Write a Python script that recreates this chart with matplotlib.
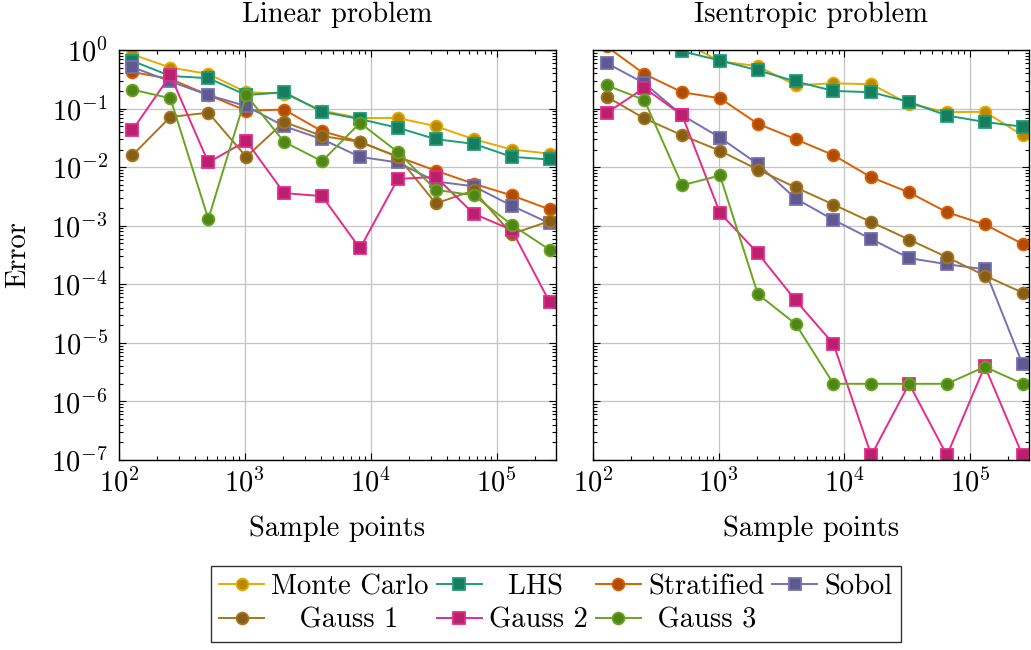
import matplotlib.pyplot as plt
from matplotlib.colors import to_rgb
from matplotlib.ticker import LogLocator, NullFormatter
import numpy as np

plt.rcParams.update({
    'font.family': 'serif',
    'font.serif': ['cmr10'],
    'mathtext.fontset': 'cm',
    'axes.formatter.use_mathtext': True,
    'font.size': 20.5,
    'axes.titlesize': 20.5,
    'axes.labelsize': 20.5,
})

samples = [128, 256, 512, 1024, 2048, 4096, 8192, 16384, 32768, 65536, 131072, 262144]

methods = ['Monte Carlo', 'LHS', 'Stratified', 'Sobol', 'Gauss 1', 'Gauss 2', 'Gauss 3']
colors = ['#e6ab02', '#1b9e77', '#d95f02', '#7570b3', '#a6761d', '#e7298a', '#66a61e']
markers = ['o', 's', 'o', 's', 'o', 's', 'o']

# linear problem errors
lin_mc = [0.84, 0.50, 0.39, 0.19, 0.18, 0.092, 0.069, 0.069, 0.050, 0.030, 0.020, 0.017]
lin_lhs = [0.65, 0.36, 0.33, 0.17, 0.19, 0.088, 0.066, 0.047, 0.030, 0.025, 0.015, 0.0135]
lin_strat = [0.42, 0.32, 0.17, 0.092, 0.096, 0.041, 0.027, 0.015, 0.0087, 0.0052, 0.0033, 0.0019]
lin_sobol = [0.51, 0.29, 0.17, 0.11, 0.050, 0.030, 0.015, 0.012, 0.0057, 0.0047, 0.0022, 0.0011]
lin_g1 = [0.016, 0.072, 0.085, 0.015, 0.059, 0.034, 0.027, 0.015, 0.0024, 0.0040, 0.00072, 0.0012]
lin_g2 = [0.043, 0.37, 0.012, 0.028, 0.0036, 0.0032, 0.00041, 0.0063, 0.0068, 0.0016, 0.00085, 5.0e-5]
lin_g3 = [0.21, 0.15, 0.0013, 0.17, 0.027, 0.0126, 0.057, 0.018, 0.0041, 0.0033, 0.00104, 0.00039]

# isentropic problem errors
isen_mc = [3.0, 2.0, 1.4, 0.64, 0.53, 0.25, 0.27, 0.26, 0.12, 0.087, 0.088, 0.035]
isen_lhs = [2.5, 1.6, 0.95, 0.66, 0.45, 0.29, 0.20, 0.19, 0.13, 0.076, 0.059, 0.049]
isen_strat = [1.15, 0.39, 0.19, 0.15, 0.055, 0.030, 0.016, 0.0067, 0.0037, 0.0017, 0.00105, 0.00049]
isen_sobol = [0.60, 0.27, 0.077, 0.032, 0.0113, 0.0029, 0.00126, 0.00059, 0.00028, 0.00022, 0.00018, 4.3e-6]
isen_g1 = [0.16, 0.068, 0.035, 0.019, 0.0091, 0.0045, 0.0023, 0.00115, 0.00058, 0.00029, 0.000141, 7.2e-5]
isen_g2 = [0.084, 0.225, 0.077, 0.00165, 0.00034, 5.3e-5, 9.6e-6, 1.2e-7, 2.0e-6, 1.2e-7, 4.0e-6, 1.2e-7]
isen_g3 = [0.25, 0.14, 0.0049, 0.0072, 6.8e-5, 2.1e-5, 2.0e-6, 2.0e-6, 2.0e-6, 2.0e-6, 3.9e-6, 2.0e-6]

linear = [lin_mc, lin_lhs, lin_strat, lin_sobol, lin_g1, lin_g2, lin_g3]
isentropic = [isen_mc, isen_lhs, isen_strat, isen_sobol, isen_g1, isen_g2, isen_g3]

fig = plt.figure(figsize=(10.31, 6.5), dpi=100)
ax1 = fig.add_axes([0.1154, 0.2923, 0.4239, 0.6308])
ax2 = fig.add_axes([0.5752, 0.2923, 0.4229, 0.6308])

handles = []
for ax, series, title in [(ax1, linear, 'Linear problem'), (ax2, isentropic, 'Isentropic problem')]:
    for name, col, mk, vals in zip(methods, colors, markers, series):
        fill = tuple(0.8 * c for c in to_rgb(col))
        h, = ax.plot(samples, vals, color=col, lw=1.4, marker=mk,
                     markersize=8 if mk == 's' else 8.5,
                     markerfacecolor=fill, markeredgecolor=col, markeredgewidth=1.3,
                     label=name)
        if ax is ax1:
            handles.append(h)
    ax.set_xscale('log')
    ax.set_yscale('log')
    ax.set_xlim(100, 2.95e5)
    ax.set_ylim(1e-7, 1)
    ax.set_xticks([1e2, 1e3, 1e4, 1e5])
    ax.set_yticks([10.0 ** k for k in range(-7, 1)])
    ax.xaxis.set_minor_locator(LogLocator(base=10, subs=np.arange(2, 10), numticks=100))
    ax.yaxis.set_minor_locator(LogLocator(base=10, subs=np.arange(2, 10), numticks=100))
    ax.xaxis.set_minor_formatter(NullFormatter())
    ax.yaxis.set_minor_formatter(NullFormatter())
    ax.tick_params(which='both', direction='in', top=True, right=True, width=0.8)
    ax.tick_params(which='major', length=5, pad=6)
    ax.tick_params(axis='y', which='major', pad=8)
    ax.tick_params(which='minor', length=3)
    ax.grid(True, which='major', color='#c4c4c4', lw=0.9)
    ax.set_axisbelow(True)
    for s in ax.spines.values():
        s.set_linewidth(1.0)
    ax.set_title(title, pad=20)
    ax.set_xlabel('Sample points', labelpad=13)

ax1.set_ylabel('Error', labelpad=14)
ax2.tick_params(axis='y', which='both', labelleft=False)

# entries are centred in their legend columns
legend_labels = ['Monte Carlo', '  LHS', 'Stratified', 'Sobol', '   Gauss 1', 'Gauss 2', ' Gauss 3']

# legend filled row by row: reorder for matplotlib's column-major layout
order = [0, 4, 1, 5, 2, 6, 3]
leg = fig.legend([handles[i] for i in order], [legend_labels[i] for i in order],
                 loc='center', bbox_to_anchor=(556 / 1031, 1 - 604 / 650),
                 ncol=4, frameon=True, fancybox=False, edgecolor='black',
                 handlelength=1.58, handletextpad=0.25, columnspacing=0.28,
                 labelspacing=0.25, borderpad=0.3, fontsize=20.5)
leg.get_frame().set_linewidth(1.0)

fig.savefig('out.png', dpi=100)
